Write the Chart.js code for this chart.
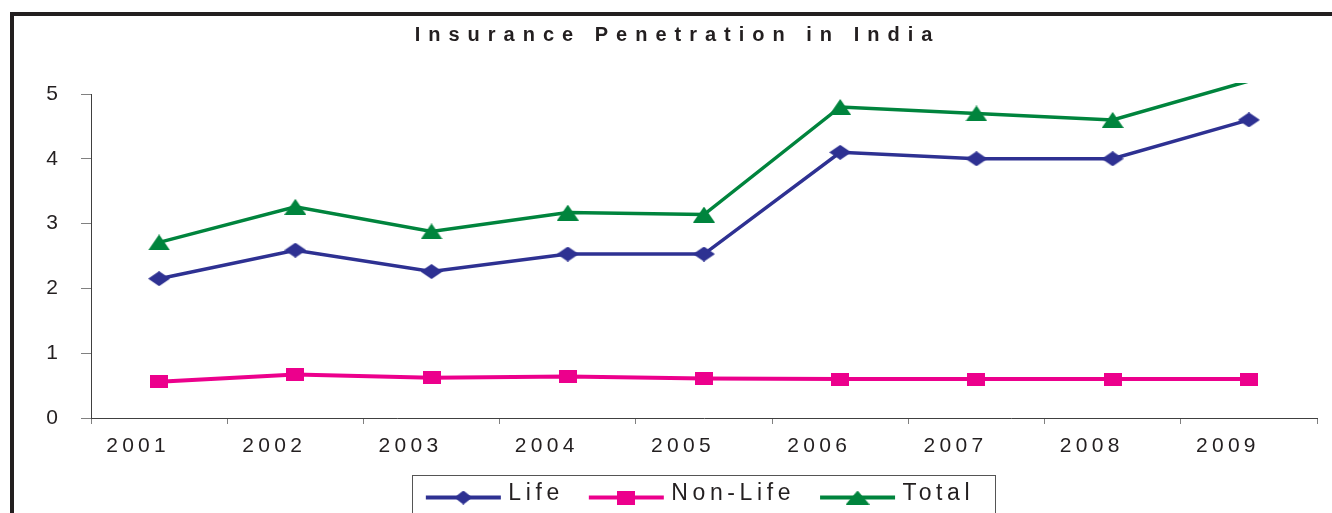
<!DOCTYPE html>
<html>
<head>
<meta charset="utf-8">
<title>Insurance Penetration in India</title>
<script src="https://cdn.jsdelivr.net/npm/chart.js@4.4.1/dist/chart.umd.min.js"></script>
<style>
  html, body { margin: 0; padding: 0; background: #fff; }
  .stage { position: relative; width: 1332px; height: 513px; overflow: hidden; }
  .stage canvas { position: absolute; left: 0; top: 0; }
  .frame { position: absolute; left: 10px; top: 12px; width: 1400px; height: 600px; box-sizing: border-box;
           border-top: 4px solid #231f20; border-left: 4px solid #231f20; pointer-events: none; }
</style>
</head>
<body>
<div class="stage">
  <canvas id="chart" width="1332" height="513"></canvas>
  <div class="frame"></div>
</div>
<script>
const chartTitle = 'Insurance Penetration in India';
const years = ['2001', '2002', '2003', '2004', '2005', '2006', '2007', '2008', '2009'];
const lifeValues = [2.15, 2.59, 2.26, 2.53, 2.53, 4.10, 4.00, 4.00, 4.60];
const nonLifeValues = [0.56, 0.67, 0.62, 0.64, 0.61, 0.60, 0.60, 0.60, 0.60];
const totalValues = [2.71, 3.26, 2.88, 3.17, 3.14, 4.80, 4.70, 4.60, 5.20];
const yTicks = [0, 1, 2, 3, 4, 5];

const FONT = "'Liberation Sans', Arial, sans-serif";
const ink = '#231f20';
const colors = { life: '#2e3192', nonLife: '#ec008c', total: '#00843d' };

// Excel-style markers, a little wider than tall like the original
function marker(w, h, color, path) {
  const c = document.createElement('canvas');
  c.width = w;
  c.height = h;
  const g = c.getContext('2d');
  g.fillStyle = color;
  g.beginPath();
  path(g, w, h);
  g.closePath();
  g.fill();
  return c;
}
const diamond = marker(22, 15, colors.life, (g, w, h) => { g.moveTo(w / 2, 0); g.lineTo(w, h / 2); g.lineTo(w / 2, h); g.lineTo(0, h / 2); });
const square = marker(18, 13, colors.nonLife, (g, w, h) => g.rect(0, 0, w, h));
const triangle = marker(22, 16, colors.total, (g, w, h) => { g.moveTo(w / 2, 0); g.lineTo(w, h); g.lineTo(0, h); });
const legendMarkerSize = [[18, 14], [18, 14], [24, 14]];

function withSpacing(target, method, spacing) {
  const original = target[method];
  target[method] = function (...args) {
    const ctx = this.ctx;
    const previous = ctx.letterSpacing;
    ctx.letterSpacing = spacing;
    const result = original.apply(this, args);
    ctx.letterSpacing = previous;
    return result;
  };
}

function shift(box, dx, dy) {
  box.left += dx; box.right += dx;
  box.top += dy; box.bottom += dy;
}

const excelLook = {
  id: 'excelLook',
  afterInit(chart) {
    withSpacing(chart.titleBlock, 'draw', '8px');
    withSpacing(chart.legend, 'fit', '4.6px');
    withSpacing(chart.legend, 'draw', '4.6px');
  },
  afterLayout(chart) {
    shift(chart.titleBlock, 19, 0);
    shift(chart.legend, 41.5, 2);
  },
  beforeDraw(chart) {
    const x = chart.scales.x;
    if (!x._spaced) {
      withSpacing(x, 'drawLabels', '4.3px');
      x._spaced = true;
    }
  },
  afterDraw(chart) {
    const ctx = chart.ctx;
    const boxes = chart.legend.legendHitBoxes;
    if (!boxes || !boxes.length) return;
    ctx.save();
    boxes.forEach((box, i) => {
      const ds = chart.data.datasets[i];
      const y = box.top + box.height / 2 + 4;
      ctx.strokeStyle = ds.borderColor;
      ctx.lineWidth = 4;
      ctx.beginPath();
      ctx.moveTo(box.left, y);
      ctx.lineTo(box.left + 75, y);
      ctx.stroke();
      const [w, h] = legendMarkerSize[i];
      ctx.drawImage(ds.pointStyle, box.left + 37.5 - w / 2, y - h / 2, w, h);
    });
    const first = boxes[0];
    const last = boxes[boxes.length - 1];
    ctx.strokeStyle = '#555';
    ctx.lineWidth = 1;
    ctx.strokeRect(Math.round(first.left - 14) + 0.5, Math.round(first.top - 7) + 0.5,
      Math.round(last.left + last.width + 21 - (first.left - 14)), 60);
    ctx.restore();
  },
};

const plotClip = { left: 10, top: 11, right: 10, bottom: 10 };

new Chart(document.getElementById('chart'), {
  type: 'line',
  data: {
    labels: years,
    datasets: [
      { label: 'Life', data: lifeValues, borderColor: colors.life, backgroundColor: colors.life, borderWidth: 3.5, pointStyle: diamond, pointRadius: 4, clip: plotClip },
      { label: 'Non-Life', data: nonLifeValues, borderColor: colors.nonLife, backgroundColor: colors.nonLife, borderWidth: 4, pointStyle: square, pointRadius: 4, clip: plotClip },
      { label: 'Total', data: totalValues, borderColor: colors.total, backgroundColor: colors.total, borderWidth: 3.5, pointStyle: triangle, pointRadius: 4, clip: plotClip },
    ],
  },
  options: {
    responsive: false,
    animation: false,
    devicePixelRatio: 1,
    layout: { autoPadding: false, padding: { left: 0, right: 15, top: 0, bottom: 0 } },
    plugins: {
      title: {
        display: true, text: chartTitle, color: ink,
        font: { family: FONT, size: 20, weight: 'bold', lineHeight: 1.2 },
        padding: { top: 23.5, bottom: 46.5 },
      },
      legend: {
        position: 'bottom',
        labels: {
          color: ink, boxWidth: 71, boxHeight: 4, padding: 25,
          font: { family: FONT, size: 23 },
          generateLabels(chart) {
            return Chart.defaults.plugins.legend.labels.generateLabels(chart)
              .map((item) => ({ ...item, fillStyle: 'transparent', strokeStyle: 'transparent', lineWidth: 0 }));
          },
        },
      },
      tooltip: { enabled: false },
    },
    scales: {
      x: {
        offset: true,
        grid: { offset: true, drawOnChartArea: false, tickLength: 6, color: '#808080' },
        border: { color: '#404040', width: 1 },
        ticks: { autoSkip: false, maxRotation: 0, padding: 10, labelOffset: -21, color: ink, font: { family: FONT, size: 21 } },
        afterFit(scale) { scale.height = 37; },
      },
      y: {
        min: 0, max: 5,
        afterBuildTicks(scale) { scale.ticks = yTicks.map((value) => ({ value })); },
        grid: { drawOnChartArea: false, tickLength: 10, color: '#808080' },
        border: { color: '#404040', width: 1 },
        ticks: { padding: 23, color: ink, font: { family: FONT, size: 21 } },
        afterFit(scale) { scale.width = 91; },
      },
    },
  },
  plugins: [excelLook],
});
</script>
</body>
</html>
